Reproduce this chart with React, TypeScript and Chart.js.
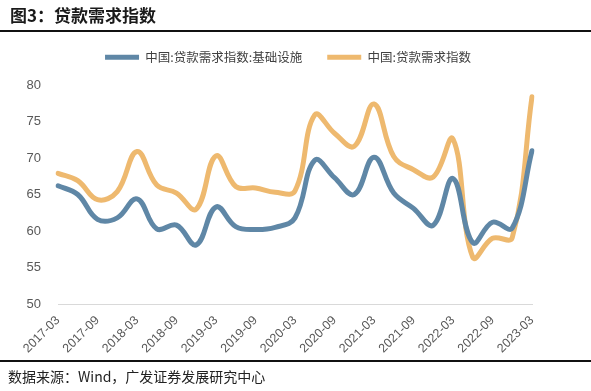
import React, { useEffect, useRef } from "react";
import { Chart, registerables } from "chart.js";

Chart.register(...registerables);

const categories = [
  "2017-03", "2017-06", "2017-09", "2017-12",
  "2018-03", "2018-06", "2018-09", "2018-12",
  "2019-03", "2019-06", "2019-09", "2019-12",
  "2020-03", "2020-06", "2020-09", "2020-12",
  "2021-03", "2021-06", "2021-09", "2021-12",
  "2022-03", "2022-06", "2022-09", "2022-12",
  "2023-03",
];

const infraSeries = [
  66.2, 65.0, 61.6, 61.8,
  64.4, 60.3, 60.8, 58.1,
  63.3, 60.6, 60.2, 60.5,
  61.8, 69.7, 67.3, 65.0,
  70.1, 65.2, 63.1, 60.8,
  67.2, 58.4, 61.2, 60.4,
  71.0,
];

const totalSeries = [
  67.9, 66.9, 64.3, 65.4,
  70.9, 66.3, 65.2, 63.0,
  70.3, 66.1, 65.9, 65.3,
  65.5, 75.9, 73.4, 71.6,
  77.4, 70.2, 68.4, 67.4,
  72.6, 56.4, 59.0, 59.1,
  78.4,
];

const seriesNames = ["中国:贷款需求指数:基础设施", "中国:贷款需求指数"];
const yTicks = [50, 55, 60, 65, 70, 75, 80];

const BLUE = "#5F87A6";
const ORANGE = "#EEB96F";

export default function App() {
  const canvasRef = useRef<HTMLCanvasElement | null>(null);

  useEffect(() => {
    document.body.style.margin = "0";
    const canvas = canvasRef.current;
    if (!canvas) return;

    const legendFixPlugin = {
      id: "legendFix",
      afterInit(chart: any) {
        const lg = chart.legend;
        if (lg) {
          const orig = lg.fit.bind(lg);
          lg.fit = function () {
            orig();
            this.height = 59;
          };
        }
      },
      afterLayout(chart: any) {
        const lg = chart.legend;
        if (lg) {
          lg.left += 22;
          lg.right += 22;
        }
      },
    };

    const chart = new Chart(canvas, {
      type: "line",
      data: {
        labels: categories,
        datasets: [
          {
            label: seriesNames[0],
            data: infraSeries,
            borderColor: BLUE,
            backgroundColor: BLUE,
            borderWidth: 5,
            borderCapStyle: "round",
            borderJoinStyle: "round",
            pointRadius: 0,
            tension: 0.4,
            fill: false,
          },
          {
            label: seriesNames[1],
            data: totalSeries,
            borderColor: ORANGE,
            backgroundColor: ORANGE,
            borderWidth: 5,
            borderCapStyle: "round",
            borderJoinStyle: "round",
            pointRadius: 0,
            tension: 0.4,
            fill: false,
          },
        ],
      },
      options: {
        responsive: false,
        animation: false,
        layout: { padding: { top: 26, right: 59, left: 0, bottom: 0 } },
        plugins: {
          tooltip: { enabled: false },
          legend: {
            display: true,
            position: "top",
            labels: {
              usePointStyle: true,
              pointStyle: "line",
              pointStyleWidth: 34,
              padding: 25,
              color: "#404040",
              font: { size: 12.5, family: "'Noto Sans CJK SC', 'Liberation Sans', sans-serif" },
            },
          },
        },
        scales: {
          x: {
            type: "category",
            offset: false,
            grid: { display: false, drawTicks: false },
            border: { display: true, color: "#D9D9D9", width: 1 },
            ticks: {
              autoSkip: false,
              minRotation: 45,
              maxRotation: 45,
              padding: 9,
              color: "#595959",
              font: { size: 12.5, family: "'Liberation Sans', Arial, sans-serif" },
              callback: (_v: any, i: number) => (i % 2 === 0 ? categories[i] : ""),
            },
            afterFit: (scale: any) => {
              scale.height = 87;
            },
          },
          y: {
            min: yTicks[0],
            max: yTicks[yTicks.length - 1],
            grid: { display: false, drawTicks: false },
            border: { display: false },
            afterBuildTicks: (scale: any) => {
              scale.ticks = yTicks.map((v) => ({ value: v }));
            },
            ticks: {
              padding: 17,
              color: "#595959",
              font: { size: 13, family: "'Liberation Sans', Arial, sans-serif" },
            },
            afterFit: (scale: any) => {
              scale.width = 58;
            },
          },
        },
      },
      plugins: [legendFixPlugin],
    });

    return () => {
      chart.destroy();
    };
  }, []);

  return (
    <div style={{ position: "relative", width: 591, height: 391, background: "#fff", overflow: "hidden" }}>
      <canvas
        ref={canvasRef}
        width={591}
        height={391}
        style={{ position: "absolute", left: 0, top: 0, width: 591, height: 391 }}
      />
      <div
        style={{
          position: "absolute",
          left: 10,
          top: 4,
          fontFamily: "'Noto Sans CJK SC', sans-serif",
          fontWeight: 700,
          fontSize: 17,
          lineHeight: "22px",
          color: "#1a1a1a",
          whiteSpace: "nowrap",
        }}
      >
        图3：贷款需求指数
      </div>
      <div style={{ position: "absolute", left: 0, top: 30, width: 591, height: 2, background: "#111" }} />
      <div style={{ position: "absolute", left: 0, top: 360, width: 591, height: 1.5, background: "#111" }} />
      <div
        style={{
          position: "absolute",
          left: 8,
          top: 366,
          fontFamily: "'Noto Sans CJK SC', sans-serif",
          fontSize: 14,
          lineHeight: "20px",
          color: "#222",
          whiteSpace: "nowrap",
        }}
      >
        数据来源：Wind，广发证券发展研究中心
      </div>
    </div>
  );
}
